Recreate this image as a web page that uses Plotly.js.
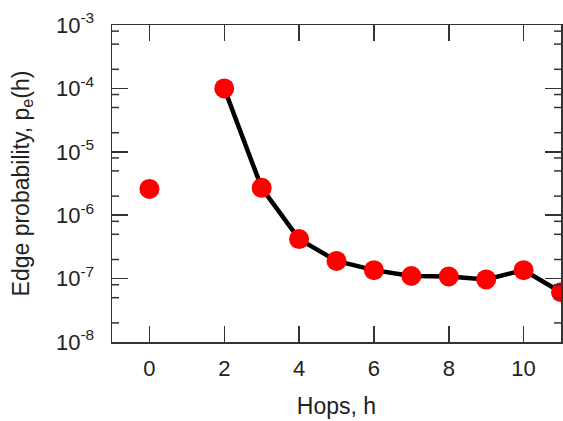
<!DOCTYPE html>
<html>
<head>
<meta charset="utf-8">
<script src="https://cdn.plot.ly/plotly-3.0.1.min.js"></script>
<style>html,body{margin:0;padding:0;background:#fff;}#chart{width:563px;height:421px;}</style>
</head>
<body>
<div id="chart"></div>
<script>
// isolated point at h = 0
const hopsSingle = [0];
const probSingle = [2.6e-6];
// connected series h = 2..11
const hops = [2, 3, 4, 5, 6, 7, 8, 9, 10, 11];
const prob = [1.0e-4, 2.7e-6, 4.2e-7, 1.9e-7, 1.36e-7, 1.1e-7, 1.08e-7, 9.7e-8, 1.36e-7, 6.1e-8];

const xTickVals = [0, 2, 4, 6, 8, 10];
const yTickVals = [1e-8, 1e-7, 1e-6, 1e-5, 1e-4, 1e-3];
const yTickText = ['10<sup>-8</sup>', '10<sup>-7</sup>', '10<sup>-6</sup>', '10<sup>-5</sup>', '10<sup>-4</sup>', '10<sup>-3</sup>'];
const yMinorMult = [2, 5, 8];

const yMinorVals = [];
for (let e = -8; e < -3; e++) {
  yMinorMult.forEach(m => yMinorVals.push(m * Math.pow(10, e)));
}

const font = 'Liberation Sans, Arial, sans-serif';
const axisColor = '#333';
const minorLen = 7;

// minor ticks on left and right frame edges, placed through the y axis scale
const minorShapes = [];
yMinorVals.forEach(v => {
  [[0, 0, minorLen], [1, -minorLen, 0]].forEach(([anchor, a, b]) => {
    minorShapes.push({
      type: 'line', xref: 'x domain', yref: 'y',
      xsizemode: 'pixel', xanchor: anchor, x0: a, x1: b,
      y0: v, y1: v,
      line: {color: axisColor, width: 1.5}, layer: 'above'
    });
  });
});

const traces = [
  {
    x: hops, y: prob, type: 'scatter', mode: 'lines+markers',
    line: {color: '#000', width: 4.5},
    marker: {color: '#ff0000', size: 20},
    cliponaxis: true, showlegend: false
  },
  {
    x: hopsSingle, y: probSingle, type: 'scatter', mode: 'markers',
    marker: {color: '#ff0000', size: 20},
    cliponaxis: true, showlegend: false
  }
];

const layout = {
  width: 563, height: 421,
  margin: {l: 112, r: 2, t: 25, b: 79},
  paper_bgcolor: '#fff', plot_bgcolor: '#fff',
  font: {family: font, color: '#222'},
  showlegend: false,
  shapes: minorShapes,
  xaxis: {
    range: [-1, 11],
    tickmode: 'array', tickvals: xTickVals,
    ticks: 'inside', ticklen: 16, tickwidth: 1.5, tickcolor: axisColor,
    showline: true, linecolor: axisColor, linewidth: 1.5, mirror: 'ticks',
    showgrid: false, zeroline: false,
    tickfont: {size: 22, family: font, color: '#222'},
    ticklabelstandoff: 6,
    title: {text: 'Hops, h', font: {size: 23, family: font, color: '#222'}, standoff: 18}
  },
  yaxis: {
    type: 'log', range: [-8, -3],
    tickmode: 'array', tickvals: yTickVals, ticktext: yTickText,
    ticks: 'inside', ticklen: 16, tickwidth: 1.5, tickcolor: axisColor,
    showline: true, linecolor: axisColor, linewidth: 1.5, mirror: 'ticks',
    showgrid: false, zeroline: false,
    tickfont: {size: 22, family: font, color: '#222'},
    ticklabelstandoff: 12,
    title: {text: 'Edge probability, p<sub>e</sub>(h)', font: {size: 23, family: font, color: '#222'}, standoff: 20}
  }
};

Plotly.newPlot('chart', traces, layout, {staticPlot: true, displayModeBar: false});
</script>
</body>
</html>
